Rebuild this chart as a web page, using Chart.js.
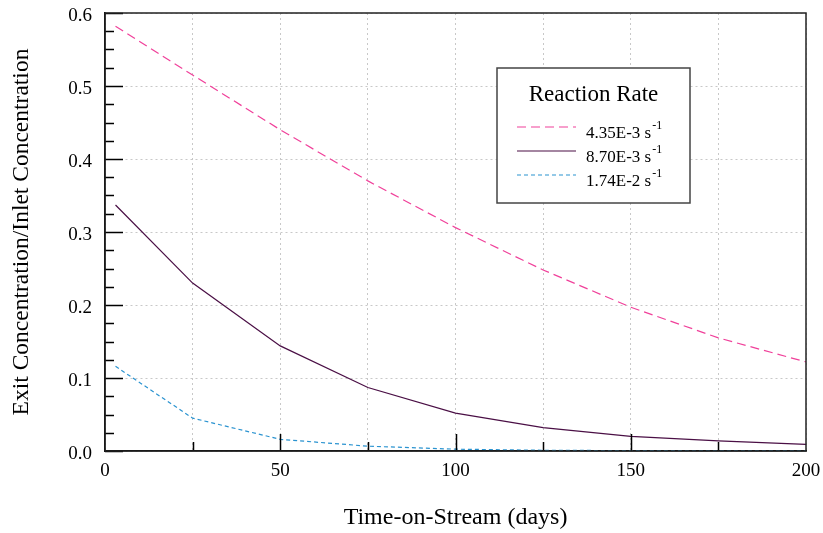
<!DOCTYPE html>
<html>
<head>
<meta charset="utf-8">
<script src="https://cdn.jsdelivr.net/npm/chart.js@4.4.1/dist/chart.umd.min.js"></script>
<style>
  html, body { margin: 0; padding: 0; background: #fff; }
  #wrap { width: 823px; height: 533px; }
</style>
</head>
<body>
<div id="wrap"><canvas id="myChart" width="823" height="533"></canvas></div>
<script>
// values
const days = [3, 25, 50, 75, 100, 125, 150, 175, 200];
const rateLow = [0.582, 0.515, 0.440, 0.370, 0.306, 0.248, 0.197, 0.155, 0.122];
const rateMid = [0.337, 0.230, 0.144, 0.087, 0.052, 0.032, 0.020, 0.014, 0.009];
const rateHigh = [0.116, 0.045, 0.016, 0.0066, 0.0025, 0.001, 0.0005, 0.0003, 0.0002];
const rateLabels = ["4.35E-3", "8.70E-3", "1.74E-2"];
const legendTitle = "Reaction Rate";
const xTitle = "Time-on-Stream (days)";
const yTitle = "Exit Concentration/Inlet Concentration";

const colors = ["#f0409a", "#4a0f45", "#2a93d0"];
const dashes = [[9, 5], [], [4, 3]];
const serif = "'Liberation Serif', 'DejaVu Serif', serif";

function toPoints(ys) {
    return days.map((d, i) => ({ x: d, y: ys[i] }));
}

// frame, inner tick marks and the boxed legend
const framePlugin = {
    id: "frame",
    afterDatasetsDraw(chart) {
        const ctx = chart.ctx;
        const a = chart.chartArea;
        const xs = chart.scales.x;
        const ys = chart.scales.y;
        ctx.save();
        ctx.strokeStyle = "#000";
        ctx.lineWidth = 1.5;
        ctx.beginPath();
        // y ticks every 0.025, long at 0.1
        for (let k = 0; k <= 24; k++) {
            const py = Math.round(ys.getPixelForValue(k * 0.025)) + 0.5;
            const len = k % 4 === 0 ? 18 : 9;
            ctx.moveTo(a.left, py);
            ctx.lineTo(a.left + len, py);
        }
        // x ticks every 25, long at 50
        for (let k = 1; k < 8; k++) {
            const px = Math.round(xs.getPixelForValue(k * 25)) + 0.5;
            const len = k % 2 === 0 ? 17 : 9;
            ctx.moveTo(px, a.bottom);
            ctx.lineTo(px, a.bottom - len);
        }
        ctx.stroke();
        ctx.strokeStyle = "#222";
        ctx.strokeRect(a.left, a.top, a.right - a.left, a.bottom - a.top);
        ctx.restore();
    },
    afterDraw(chart) {
        const ctx = chart.ctx;
        const bx = 497, by = 68, bw = 193, bh = 135;
        ctx.save();
        ctx.fillStyle = "#fff";
        ctx.fillRect(bx, by, bw, bh);
        ctx.strokeStyle = "#444";
        ctx.lineWidth = 1.5;
        ctx.strokeRect(bx, by, bw, bh);
        ctx.fillStyle = "#000";
        ctx.textBaseline = "middle";
        ctx.textAlign = "center";
        ctx.font = "23px " + serif;
        ctx.fillText(legendTitle, bx + bw / 2, by + 27);
        ctx.textAlign = "left";
        rateLabels.forEach((lab, i) => {
            const ly = by + 59 + i * 24;
            ctx.strokeStyle = colors[i];
            ctx.lineWidth = 1.2;
            ctx.setLineDash(dashes[i]);
            ctx.beginPath();
            ctx.moveTo(bx + 20, ly);
            ctx.lineTo(bx + 79, ly);
            ctx.stroke();
            ctx.setLineDash([]);
            ctx.font = "17px " + serif;
            const txt = lab + " s";
            ctx.fillText(txt, bx + 89, ly + 7);
            const w = ctx.measureText(txt).width;
            ctx.font = "12px " + serif;
            ctx.fillText("-1", bx + 89 + w + 1, ly - 1);
        });
        ctx.restore();
    }
};

new Chart("myChart", {
    type: "line",
    data: {
        datasets: [rateLow, rateMid, rateHigh].map((ys, i) => ({
            label: rateLabels[i],
            data: toPoints(ys),
            borderColor: colors[i],
            borderWidth: 1.2,
            borderDash: dashes[i],
            pointRadius: 0,
            tension: 0,
            fill: false
        }))
    },
    options: {
        responsive: false,
        animation: false,
        devicePixelRatio: 1,
        layout: { padding: { top: 13, right: 17, left: 0, bottom: 0 } },
        plugins: {
            legend: { display: false },
            tooltip: { enabled: false }
        },
        scales: {
            x: {
                type: "linear",
                min: 0,
                max: 200,
                afterFit: s => { s.height = 82; s.paddingLeft = 0; s.paddingRight = 0; },
                grid: {
                    color: "#c8c8c8",
                    lineWidth: 1,
                    drawTicks: false
                },
                border: { display: true, color: "#000", width: 1.5, dash: [2, 3] },
                ticks: {
                    stepSize: 25,
                    padding: 9,
                    color: "#000",
                    font: { family: serif, size: 19 },
                    maxRotation: 0,
                    autoSkip: false,
                    callback: v => (v % 50 === 0 ? String(v) : "")
                },
                title: {
                    display: true,
                    text: xTitle,
                    color: "#000",
                    font: { family: serif, size: 24 },
                    padding: { top: 0, bottom: 1 }
                }
            },
            y: {
                min: 0,
                max: 0.6,
                afterFit: s => { s.width = 105; s.paddingTop = 0; s.paddingBottom = 0; },
                grid: {
                    color: "#c8c8c8",
                    lineWidth: 1,
                    drawTicks: false
                },
                border: { display: true, color: "#000", width: 1.5, dash: [2, 3] },
                ticks: {
                    stepSize: 0.1,
                    padding: 13,
                    labelOffset: 3,
                    color: "#000",
                    font: { family: serif, size: 19 },
                    callback: v => Number(v).toFixed(1)
                },
                title: {
                    display: true,
                    text: yTitle,
                    color: "#000",
                    font: { family: serif, size: 23.5 },
                    padding: { top: 8, bottom: 0 }
                }
            }
        }
    },
    plugins: [framePlugin]
});
</script>
</body>
</html>
